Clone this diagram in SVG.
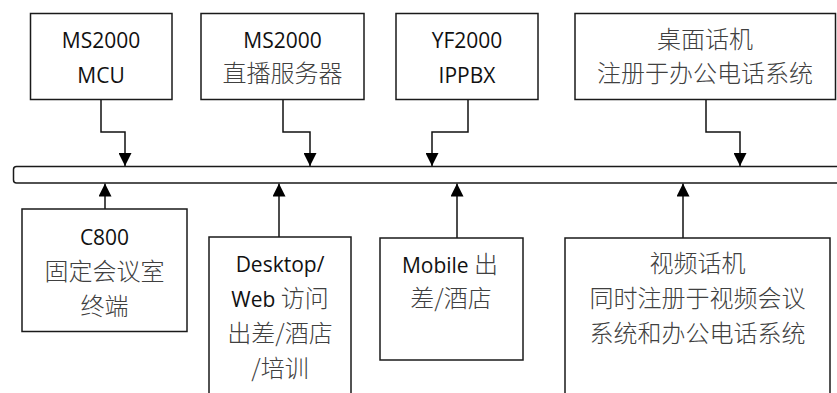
<svg xmlns="http://www.w3.org/2000/svg" width="837" height="393" viewBox="0 0 837 393">
<style>
  .box{fill:#fff;stroke:#1a1a1a;stroke-width:1.5}
  .bus{fill:#fff;stroke:#1a1a1a;stroke-width:1.5}
  .ln{fill:none;stroke:#111;stroke-width:1.5;marker-end:url(#ah)}
  text{text-anchor:middle;font-family:"Open Sans","Liberation Sans","Noto Sans CJK SC",sans-serif;font-size:21px;fill:#111}
  .c{font-family:"Noto Sans CJK SC","Noto Sans CJK TC",sans-serif;font-size:24px;font-weight:300;fill:#404040}
</style>
<defs>
  <marker id="ah" markerUnits="userSpaceOnUse" markerWidth="13" markerHeight="13" viewBox="0 0 13 13" refX="13" refY="6.5" orient="auto">
    <path d="M0,0 L13,6.5 L0,13 z" fill="#000"/>
  </marker>
</defs>
<rect class="bus" x="13.5" y="166.5" width="900" height="16.5" rx="3"/>
<g id="connectors">
  <path class="ln" d="M101 99.5 V132 H125 V166"/>
  <path class="ln" d="M283 99.5 V132 H310 V166"/>
  <path class="ln" d="M468 99.5 V132 H432 V166"/>
  <path class="ln" d="M706 99.5 V132 H740 V166"/>
  <path class="ln" d="M105 209 V183.5"/>
  <path class="ln" d="M279 237 V183.5"/>
  <path class="ln" d="M457 238 V183.5"/>
  <path class="ln" d="M683 238 V183.5"/>
</g>
<g id="mcu">
  <rect class="box" x="30.5" y="13.5" width="141.5" height="86"/>
  <text x="101" y="48">MS2000</text>
  <text x="101" y="83">MCU</text>
</g>
<g id="live">
  <rect class="box" x="201" y="13.5" width="163" height="86"/>
  <text x="282.5" y="48">MS2000</text>
  <text x="282.5" y="82" class="c">直播服务器</text>
</g>
<g id="ippbx">
  <rect class="box" x="396" y="13.5" width="142" height="86"/>
  <text x="467" y="48">YF2000</text>
  <text x="467" y="83">IPPBX</text>
</g>
<g id="deskphone">
  <rect class="box" x="575" y="13.5" width="260.5" height="86"/>
  <text x="705" y="48" class="c">桌面话机</text>
  <text x="705" y="82" class="c">注册于办公电话系统</text>
</g>
<g id="c800">
  <rect class="box" x="22" y="209" width="165" height="122.5"/>
  <text x="104.5" y="245">C800</text>
  <text x="104.5" y="280" class="c">固定会议室</text>
  <text x="104.5" y="315" class="c">终端</text>
</g>
<g id="desktop">
  <rect class="box" x="209" y="237" width="142" height="200"/>
  <text x="280" y="272">Desktop/</text>
  <text x="280" y="307">Web <tspan class="c">访问</tspan></text>
  <text x="280" y="342" class="c">出差/酒店</text>
  <text x="280" y="377" class="c">/培训</text>
</g>
<g id="mobile">
  <rect class="box" x="380" y="238" width="143" height="122"/>
  <text x="450" y="273">Mobile <tspan class="c">出</tspan></text>
  <text x="451" y="307" class="c">差/酒店</text>
</g>
<g id="videophone">
  <rect class="box" x="565" y="238" width="265" height="200"/>
  <text x="697.5" y="272" class="c">视频话机</text>
  <text x="697.5" y="307" class="c">同时注册于视频会议</text>
  <text x="697.5" y="342" class="c">系统和办公电话系统</text>
</g>
</svg>
